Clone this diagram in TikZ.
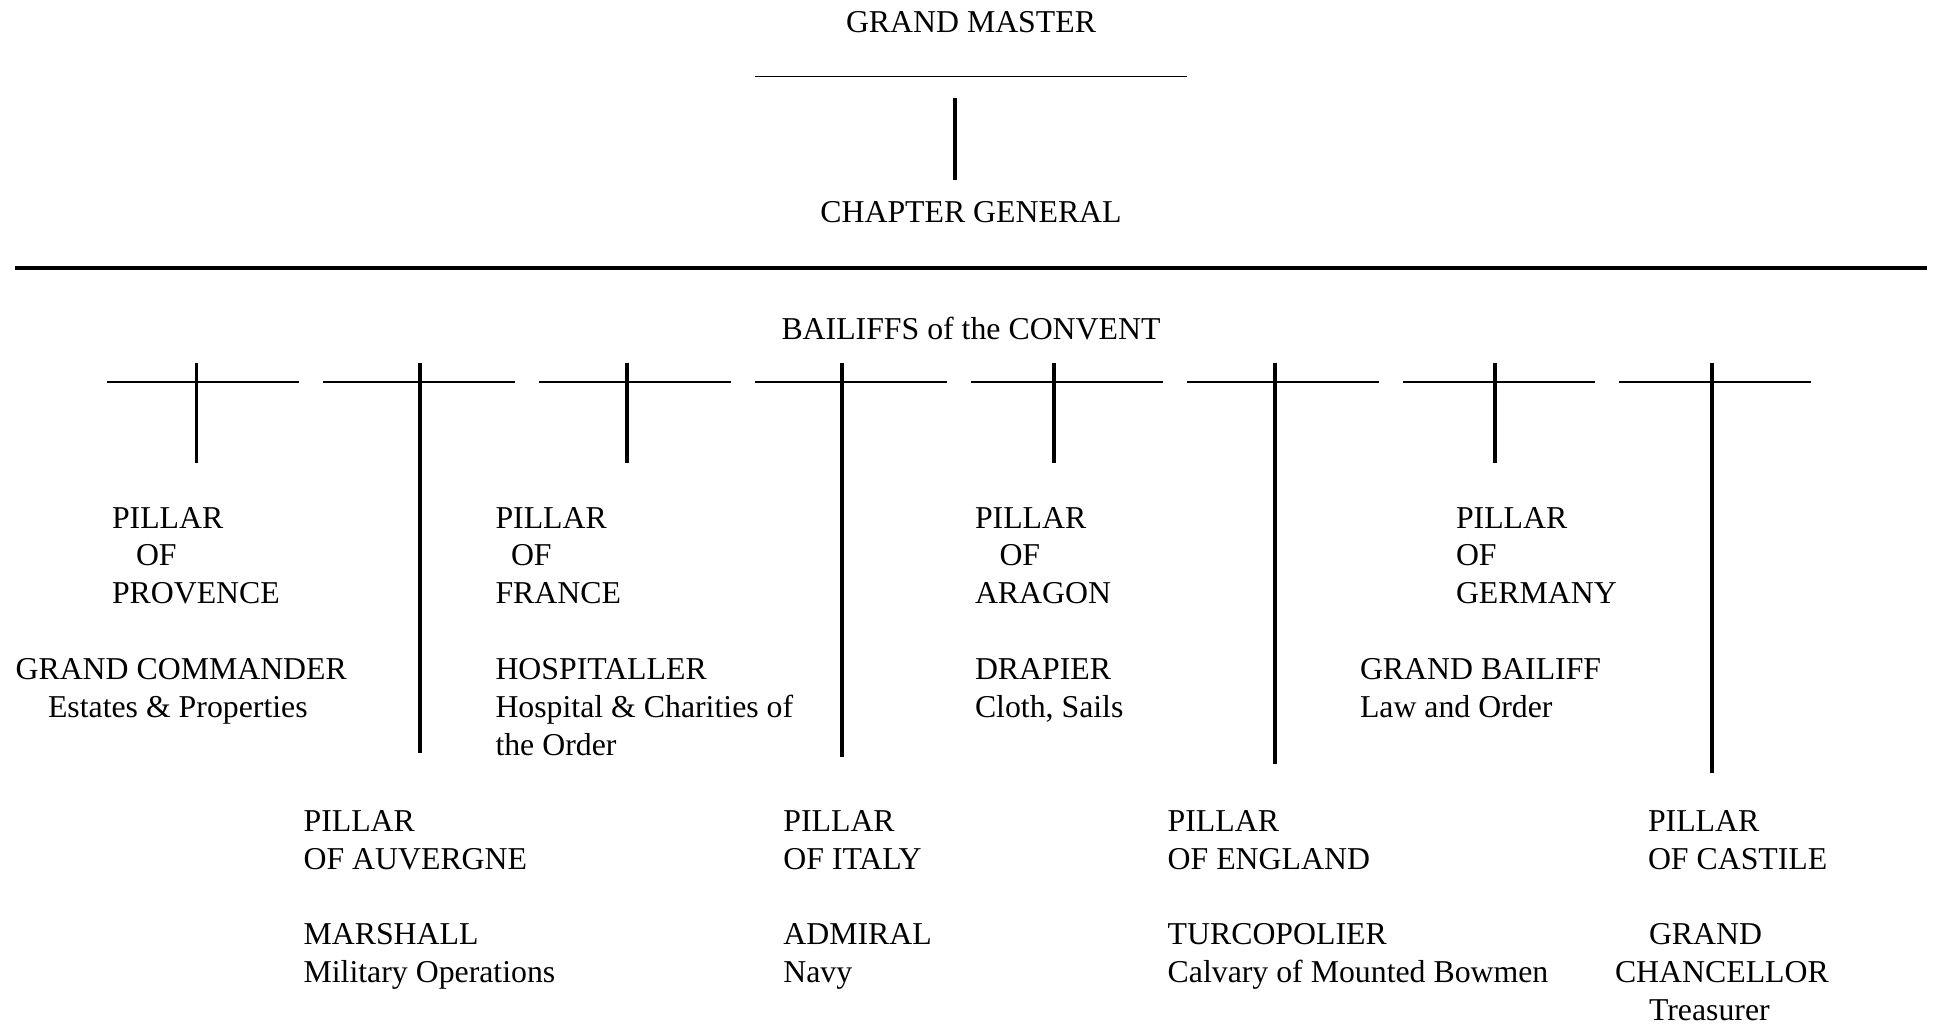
\documentclass[tikz,border=0pt]{standalone}
\usepackage{fontspec}
\setmainfont{Liberation Serif}
\begin{document}
\begin{tikzpicture}[x=1pt,y=-1pt,
  txt/.style={anchor=base west,inner sep=0pt,outer sep=0pt,font=\fontsize{31.8}{38}\selectfont},
  ctxt/.style={txt,anchor=base},
  hairrule/.style={line width=1.7pt},
  boldrule/.style={line width=3.8pt},
  longrule/.style={line width=3.5pt}]
\useasboundingbox (0,0) rectangle (1935,1025);

% ---- top ----
\node[ctxt] (gm) at (971,33) {GRAND MASTER};
\coordinate (gmL) at (755,76.5);
\coordinate (gmR) at (1187,76.5);
\draw[hairrule] (gmL) -- (gmR);
\coordinate (gmT) at (955,98);
\coordinate (gmB) at (955,180);
\draw[boldrule] (gmT) -- (gmB);
\node[ctxt] (cg) at (971,222) {CHAPTER GENERAL};
\coordinate (lL) at (15,268);
\coordinate (lR) at (1927,268);
\draw[longrule] (lL) -- (lR);
\node[ctxt] (bc) at (971,339) {BAILIFFS of the CONVENT};

% ---- segments ----
\foreach \i in {0,...,7}{
  \coordinate (sA\i) at ({107+216*\i},382);
  \coordinate (sB\i) at ({107+216*\i+192},382);
  \draw[hairrule] (sA\i) -- (sB\i);
}
% ---- verticals ----
\foreach \n/\x/\b in {1/196.4/463, 2/419.6/753, 3/627/463, 4/841.8/757,
                       5/1054/463, 6/1275/764, 7/1494.8/463, 8/1712/773}{
  \coordinate (vT\n) at (\x,363);
  \coordinate (vB\n) at (\x,\b);
  \draw[boldrule] (vT\n) -- (vB\n);
}

% ---- Provence ----
\node[txt] (pr1) at (112,528) {PILLAR};
\node[txt] (pr2) at (136,565.9) {OF};
\node[txt] (pr3) at (112,603.8) {PROVENCE};
\node[txt] (pr4) at (15.6,679.6) {GRAND COMMANDER};
\node[txt] (pr5) at (48,717.5) {Estates \& Properties};

% ---- France ----
\node[txt] (fr1) at (495.5,528) {PILLAR};
\node[txt] (fr2) at (511,565.9) {OF};
\node[txt] (fr3) at (495.5,603.8) {FRANCE};
\node[txt] (fr4) at (495.5,679.6) {HOSPITALLER};
\node[txt] (fr5) at (495.5,717.5) {Hospital \& Charities of};
\node[txt] (fr6) at (495.5,755.4) {the Order};

% ---- Aragon ----
\node[txt] (ar1) at (975,528) {PILLAR};
\node[txt] (ar2) at (999.5,565.9) {OF};
\node[txt] (ar3) at (975,603.8) {ARAGON};
\node[txt] (ar4) at (975,679.6) {DRAPIER};
\node[txt] (ar5) at (975,717.5) {Cloth, Sails};

% ---- Germany ----
\node[txt] (ge1) at (1456,528) {PILLAR};
\node[txt] (ge2) at (1456,565.9) {OF};
\node[txt] (ge3) at (1456,603.8) {GERMANY};
\node[txt] (ge4) at (1360,679.6) {GRAND BAILIFF};
\node[txt] (ge5) at (1360,717.5) {Law and Order};

% ---- Auvergne ----
\node[txt] (au1) at (303.6,831.2) {PILLAR};
\node[txt] (au2) at (303.6,869.1) {OF AUVERGNE};
\node[txt] (au3) at (303.6,944.9) {MARSHALL};
\node[txt] (au4) at (303.6,982.8) {Military Operations};

% ---- Italy ----
\node[txt] (it1) at (783.4,831.2) {PILLAR};
\node[txt] (it2) at (783.4,869.1) {OF ITALY};
\node[txt] (it3) at (783.4,944.9) {ADMIRAL};
\node[txt] (it4) at (783.4,982.8) {Navy};

% ---- England ----
\node[txt] (en1) at (1167.7,831.2) {PILLAR};
\node[txt] (en2) at (1167.7,869.1) {OF ENGLAND};
\node[txt] (en3) at (1167.7,944.9) {TURCOPOLIER};
\node[txt] (en4) at (1167.7,982.8) {Calvary of Mounted Bowmen};

% ---- Castile ----
\node[txt] (ca1) at (1648,831.2) {PILLAR};
\node[txt] (ca2) at (1648,869.1) {OF CASTILE};
\node[txt] (ca3) at (1649,944.9) {GRAND};
\node[txt] (ca4) at (1615,982.8) {CHANCELLOR};
\node[txt] (ca5) at (1649,1020.7) {Treasurer};
\end{tikzpicture}
\end{document}
